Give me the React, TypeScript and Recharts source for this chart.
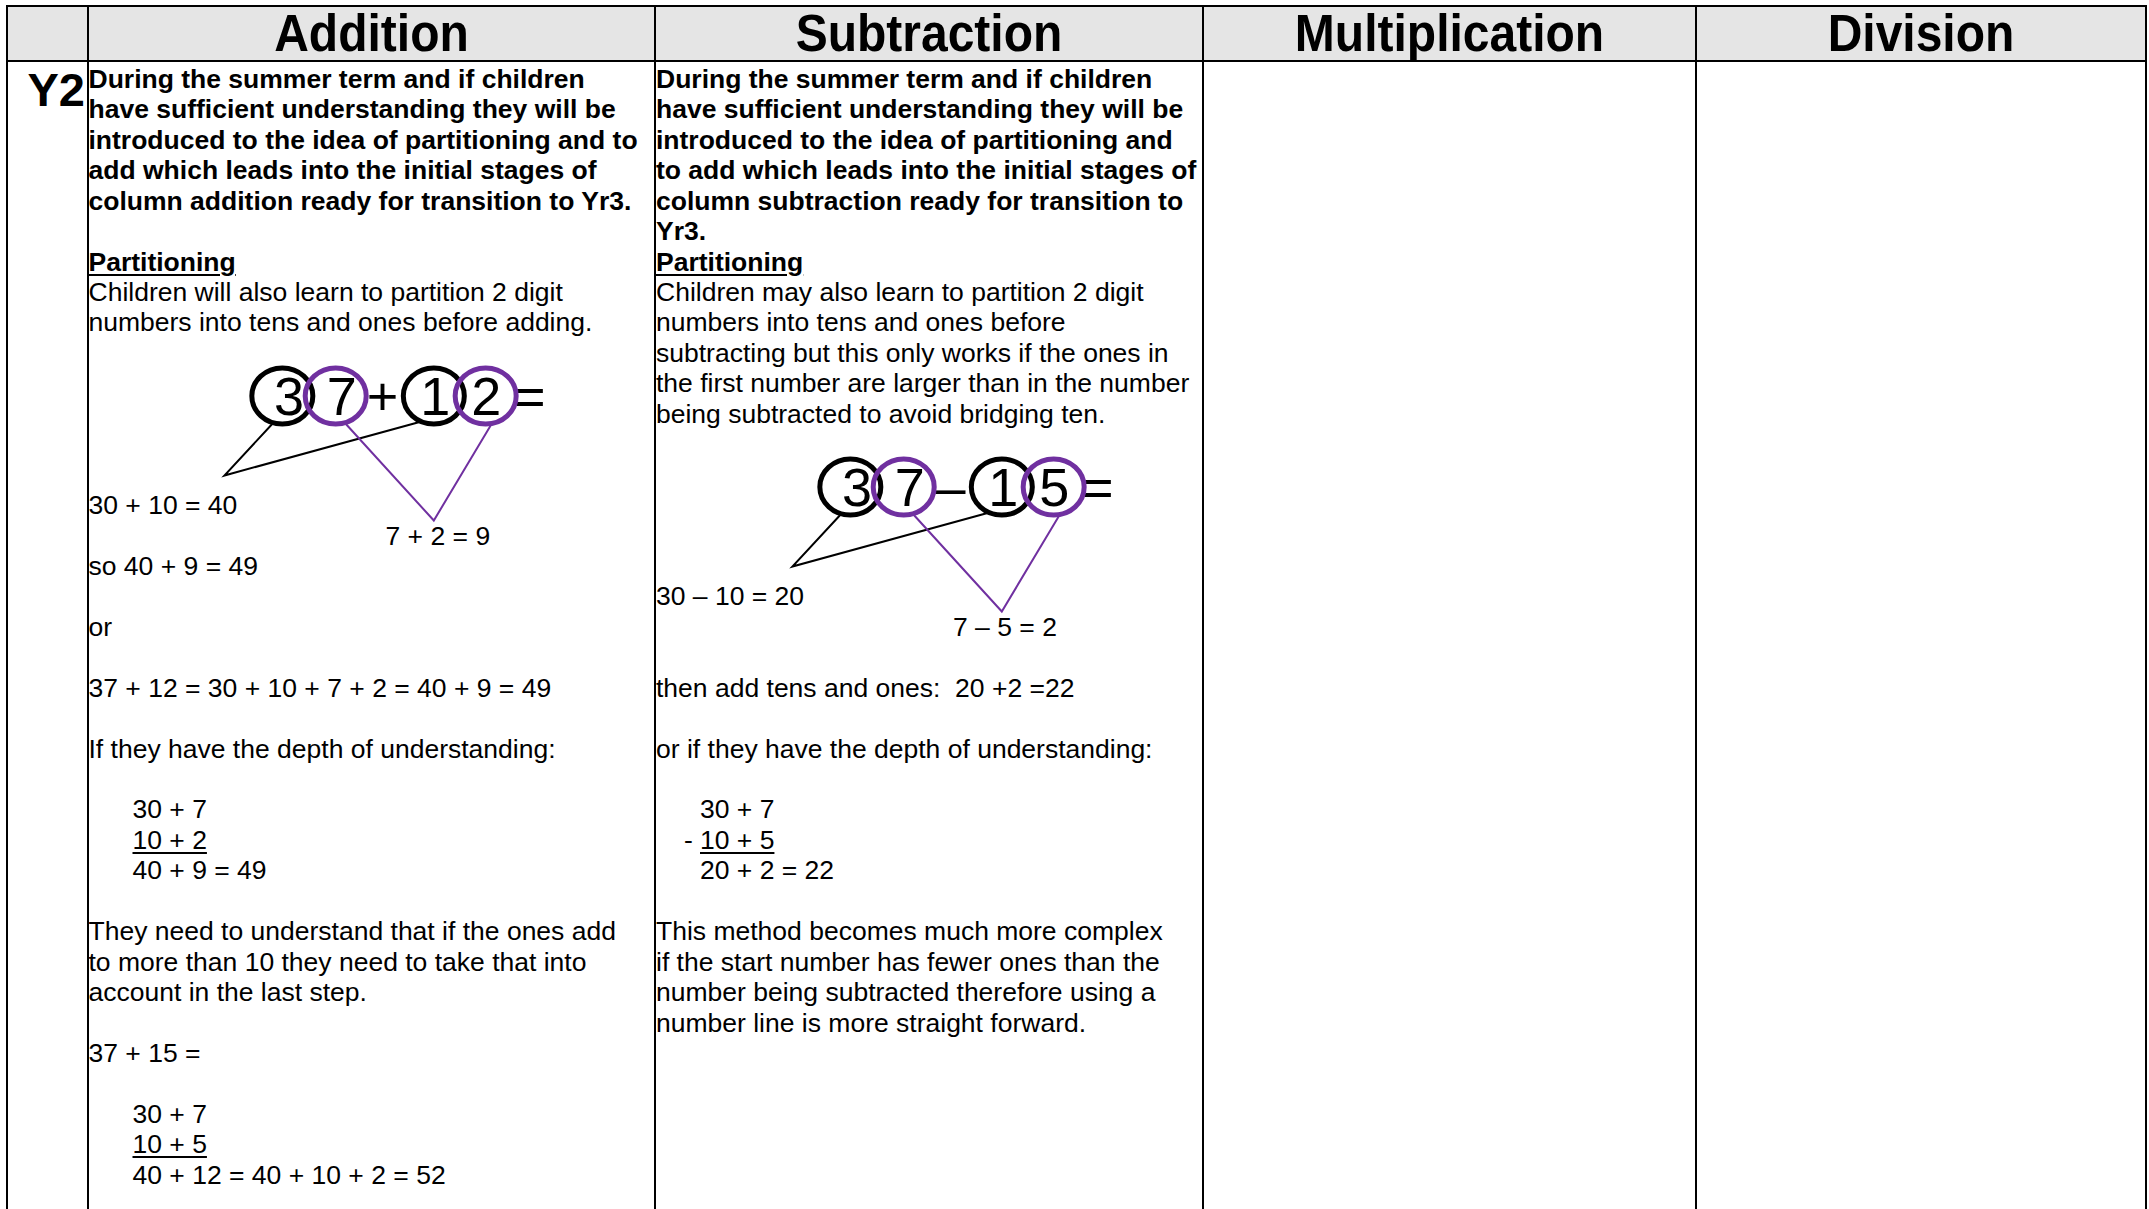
import { ScatterChart, Scatter, XAxis, YAxis } from "recharts";

const FONT = '"Liberation Sans", Arial, Helvetica, sans-serif';
const LH = 30.45;
const FS = 26.5;
const TEXT_TOP = 63.9;
const INK = "#000000";
const PURPLE = "#7030a0";

const headers = ["Addition", "Subtraction", "Multiplication", "Division"];
const gridX = [6, 87, 654, 1202, 1695, 2145];

// partition diagrams: x in digit slots, y in ring heights below the sum
const addTokens = ["3", "7", "+", "1", "2", "="];
const subTokens = ["3", "7", "\u2013", "1", "5", "="];
const tokenSlots = [0.13, 1.17, 1.97, 3.01, 4.01, 4.87];
const ringSlots = [0, 1.05, 2.98, 4.0];
const ringPlace = ["tens", "ones", "tens", "ones"];
const tensJoin = [
  { x: -0.19, y: 0.55 },
  { x: -1.14, y: 1.59 },
  { x: 2.7, y: 0.52 },
];
const onesJoin = [
  { x: 1.25, y: 0.56 },
  { x: 2.98, y: 2.49 },
  { x: 4.11, y: 0.57 },
];

type TextLine = { t?: string; b?: boolean; u?: boolean; indent?: number; prefix?: string; diagram?: boolean };

const additionLines: TextLine[] = [
  { t: "During the summer term and if children", b: true },
  { t: "have sufficient understanding they will be", b: true },
  { t: "introduced to the idea of partitioning and to", b: true },
  { t: "add which leads into the initial stages of", b: true },
  { t: "column addition ready for transition to Yr3.", b: true },
  { t: "" },
  { t: "Partitioning", b: true, u: true },
  { t: "Children will also learn to partition 2 digit" },
  { t: "numbers into tens and ones before adding." },
  { diagram: true },
  { t: "30 + 10 = 40" },
  { t: "7 + 2 = 9", indent: 297 },
  { t: "so 40 + 9 = 49" },
  { t: "" },
  { t: "or" },
  { t: "" },
  { t: "37 + 12 = 30 + 10 + 7 + 2 = 40 + 9 = 49" },
  { t: "" },
  { t: "If they have the depth of understanding:" },
  { t: "" },
  { t: "30 + 7", indent: 44 },
  { t: "10 + 2", indent: 44, u: true },
  { t: "40 + 9 = 49", indent: 44 },
  { t: "" },
  { t: "They need to understand that if the ones add" },
  { t: "to more than 10 they need to take that into" },
  { t: "account in the last step." },
  { t: "" },
  { t: "37 + 15 =" },
  { t: "" },
  { t: "30 + 7", indent: 44 },
  { t: "10 + 5", indent: 44, u: true },
  { t: "40 + 12 = 40 + 10 + 2 = 52", indent: 44 },
];

const subtractionLines: TextLine[] = [
  { t: "During the summer term and if children", b: true },
  { t: "have sufficient understanding they will be", b: true },
  { t: "introduced to the idea of partitioning and", b: true },
  { t: "to add which leads into the initial stages of", b: true },
  { t: "column subtraction ready for transition to", b: true },
  { t: "Yr3.", b: true },
  { t: "Partitioning", b: true, u: true },
  { t: "Children may also learn to partition 2 digit" },
  { t: "numbers into tens and ones before" },
  { t: "subtracting but this only works if the ones in" },
  { t: "the first number are larger than in the number" },
  { t: "being subtracted to avoid bridging ten." },
  { diagram: true },
  { t: "30 \u2013 10 = 20" },
  { t: "7 \u2013 5 = 2", indent: 297 },
  { t: "" },
  { t: "then add tens and ones:  20 +2 =22" },
  { t: "" },
  { t: "or if they have the depth of understanding:" },
  { t: "" },
  { t: "30 + 7", indent: 44 },
  { t: "10 + 5", indent: 44, u: true, prefix: "-" },
  { t: "20 + 2 = 22", indent: 44 },
  { t: "" },
  { t: "This method becomes much more complex" },
  { t: "if the start number has fewer ones than the" },
  { t: "number being subtracted therefore using a" },
  { t: "number line is more straight forward." },
];

function ring(color: string) {
  return (p: any) => (
    <ellipse cx={p.cx} cy={p.cy} rx={30.5} ry={28} fill="none" stroke={color} strokeWidth={5} />
  );
}

function PartitionDiagram({ tokens }: { tokens: string[] }) {
  const tokenData = tokens.map((t, i) => ({ x: tokenSlots[i], y: 0, t }));
  const rings = ringSlots.map((x, i) => ({ x, y: 0, place: ringPlace[i] }));
  const tens = rings.filter((r) => r.place === "tens");
  const ones = rings.filter((r) => r.place === "ones");
  return (
    <ScatterChart width={366} height={191} margin={{ top: 0, right: 0, bottom: 0, left: 0 }}>
      <XAxis type="number" dataKey="x" domain={[-1.6, 5.6]} hide allowDataOverflow />
      <YAxis type="number" dataKey="y" domain={[-1.16, 2.66]} hide reversed allowDataOverflow />
      <Scatter
        data={tokenData}
        isAnimationActive={false}
        shape={(p: any) => (
          <text x={p.cx} y={p.cy + 18.5} textAnchor="middle" fontSize={54} fontFamily={FONT} fill={INK}>
            {p.payload.t}
          </text>
        )}
      />
      <Scatter data={tensJoin} fill={INK} isAnimationActive={false} line={{ stroke: INK, strokeWidth: 2 }} shape={() => <g />} />
      <Scatter data={onesJoin} fill={PURPLE} isAnimationActive={false} line={{ stroke: PURPLE, strokeWidth: 2 }} shape={() => <g />} />
      <Scatter data={tens} isAnimationActive={false} shape={ring(INK)} />
      <Scatter data={ones} isAnimationActive={false} shape={ring(PURPLE)} />
    </ScatterChart>
  );
}

function Column({ left, lines, tokens }: { left: number; lines: TextLine[]; tokens: string[] }) {
  return (
    <div style={{ position: "absolute", left, top: TEXT_TOP, fontSize: FS, lineHeight: `${LH}px`, whiteSpace: "pre" }}>
      {lines.map((ln, i) =>
        ln.diagram ? (
          <div key={i} style={{ position: "relative", height: LH * 5 }}>
            <div style={{ position: "absolute", left: 112.5, top: 0 }}>
              <PartitionDiagram tokens={tokens} />
            </div>
          </div>
        ) : (
          <div key={i} style={{ position: "relative", height: LH, paddingLeft: ln.indent ?? 0, fontWeight: ln.b ? 700 : 400 }}>
            {ln.prefix && <span style={{ position: "absolute", left: 28, top: 0 }}>{ln.prefix}</span>}
            <span style={ln.u ? { textDecoration: "underline", textDecorationThickness: 2, textUnderlineOffset: 3 } : undefined}>
              {ln.t}
            </span>
          </div>
        )
      )}
    </div>
  );
}

export default function App() {
  return (
    <div style={{ position: "absolute", left: 0, top: 0, width: 2149, height: 1209, overflow: "hidden", background: "#fff", fontFamily: FONT, color: INK }}>
      <div style={{ position: "absolute", left: 6, top: 5, width: 2141, height: 57, background: "#e5e5e5" }} />
      {headers.map((h, i) => (
        <div
          key={h}
          style={{
            position: "absolute",
            left: gridX[i + 1] + 2,
            width: gridX[i + 2] - gridX[i + 1] - 2,
            top: 7,
            height: 53,
            display: "flex",
            alignItems: "center",
            justifyContent: "center",
            fontSize: 48,
            fontWeight: 700,
            lineHeight: 1,
          }}
        >
          <span style={{ display: "inline-block", transform: "scaleY(1.08)" }}>{h}</span>
        </div>
      ))}
      <div style={{ position: "absolute", left: 6, top: 5, width: 2141, height: 2, background: INK }} />
      <div style={{ position: "absolute", left: 6, top: 60, width: 2141, height: 2, background: INK }} />
      {gridX.map((x) => (
        <div key={x} style={{ position: "absolute", left: x, top: 5, width: 2, height: 1204, background: INK }} />
      ))}
      <div style={{ position: "absolute", left: 8, width: 77, top: 66.2, textAlign: "right", fontSize: 47, fontWeight: 700, lineHeight: "47px" }}>
        Y2
      </div>
      <Column left={88.5} lines={additionLines} tokens={addTokens} />
      <Column left={656} lines={subtractionLines} tokens={subTokens} />
    </div>
  );
}
